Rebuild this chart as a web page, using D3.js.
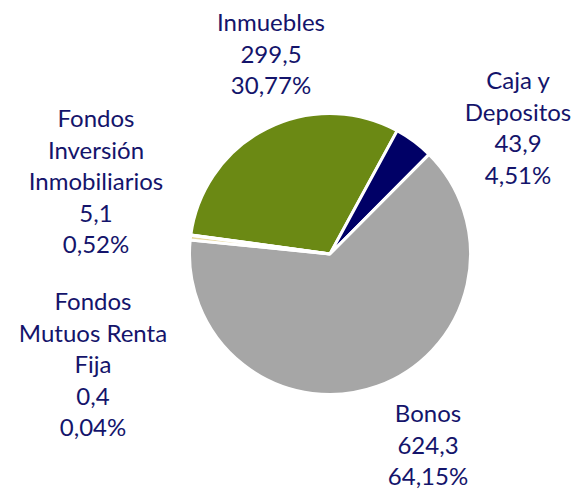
<!DOCTYPE html>
<html lang="es">
<head>
    <meta charset="utf-8">
    <title>Cartera de inversiones</title>
    <style>
        body { margin: 0; background: #fff; }
        .lbl {
            font-family: Lato, "Open Sans", sans-serif;
            font-size: 24px;
            fill: #14146b;
        }
    </style>
    <script src="https://cdn.jsdelivr.net/npm/d3@7"></script>
</head>
<body>
    <svg></svg>
    <script>
        // data
        var categories = ["Inmuebles", "Caja y Depositos", "Bonos",
                          "Fondos Inversión Inmobiliarios", "Fondos Mutuos Renta Fija"];
        var values = [299.5, 43.9, 624.3, 5.1, 0.4];
        // how each category name is broken into lines
        var nameLines = [["Inmuebles"], ["Caja y", "Depositos"], ["Bonos"],
                         ["Fondos", "Inversión", "Inmobiliarios"],
                         ["Fondos", "Mutuos Renta", "Fija"]];
        var colors = ["#6b8914", "#000066", "#a6a6a6", "#e8d9a0", "#c9c9e0"];

        var width = 576, height = 489;
        var cx = 330, cy = 254, radius = 140.5;

        // label block anchors (centre x, first baseline)
        var labelPos = [[271, 31], [518, 89], [428, 422], [96, 127], [93, 310]];
        var lineHeight = 31.5;

        var svg = d3.select("svg")
            .attr("width", width)
            .attr("height", height);

        var data = categories.map(function(c, i) {
            return {name: c, value: values[i], lines: nameLines[i], color: colors[i]};
        });
        var total = d3.sum(values);

        var start = -82.2 * Math.PI / 180;
        var pie = d3.pie()
            .sort(null)
            .value(function(d) { return d.value; })
            .startAngle(start)
            .endAngle(start + 2 * Math.PI);

        var arc = d3.arc()
            .innerRadius(0)
            .outerRadius(radius);

        var g = svg.append("g")
            .attr("transform", "translate(" + cx + "," + cy + ")");

        g.selectAll("path")
            .data(pie(data))
            .enter().append("path")
            .attr("d", arc)
            .attr("fill", function(d) { return d.data.color; })
            .attr("stroke", "#fff")
            .attr("stroke-width", 3)
            .attr("stroke-linejoin", "miter");

        var fmtVal = function(v) { return d3.format(".1f")(v).replace(".", ","); };
        var fmtPct = function(v) { return d3.format(".2f")(v * 100).replace(".", ",") + "%"; };

        data.forEach(function(d, i) {
            var lines = d.lines.concat([fmtVal(d.value), fmtPct(d.value / total)]);
            var t = svg.append("text")
                .attr("class", "lbl")
                .attr("text-anchor", "middle")
                .attr("x", labelPos[i][0])
                .attr("y", labelPos[i][1]);
            lines.forEach(function(l, j) {
                t.append("tspan")
                    .attr("x", labelPos[i][0])
                    .attr("y", labelPos[i][1] + j * lineHeight)
                    .text(l);
            });
        });
    </script>
</body>
</html>
